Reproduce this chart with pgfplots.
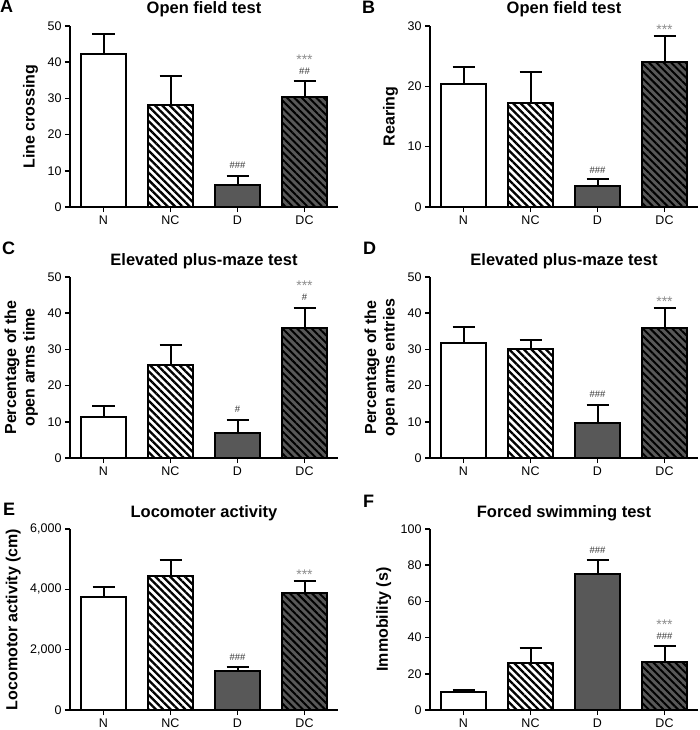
\documentclass[border=0pt]{standalone}
\usepackage{fontspec}
\setmainfont{Liberation Sans}
\usepackage{pgfplots}
\pgfplotsset{compat=1.18}
\usetikzlibrary{patterns.meta}
\definecolor{dgrey}{RGB}{88,88,88}
\definecolor{stargrey}{RGB}{140,140,140}
\definecolor{hashgrey}{RGB}{50,50,50}
\tikzset{
  star/.style={font=\fontsize{14}{14}\selectfont, text=stargrey, inner sep=0pt},
  hash/.style={font=\fontsize{9.5}{10}\selectfont, text=hashgrey, inner sep=0pt},
}
\pgfplotsset{
  panel/.style={
    scale only axis, width=268pt, height=181pt,
    anchor=south west,
    xmin=-0.5, xmax=3.5, ymin=0,
    axis x line*=bottom, axis y line*=left,
    axis line style={line width=2pt, -},
    ybar, bar width=0.66, bar shift=0pt,
    xtick={0,1,2,3}, xticklabels={N,NC,D,DC},
    tick align=outside, major tick length=5pt,
    every tick/.style={black, line width=1.6pt},
    x tick label style={font=\fontsize{12.5}{14}\selectfont},
    y tick label style={font=\fontsize{12.5}{14}\selectfont},
    /pgf/number format/assume math mode=true,
    /pgf/number format/1000 sep={,},
    scaled y ticks=false,
    title style={anchor=base, yshift=6pt, font=\bfseries\fontsize{16.5}{19}\selectfont},
    ylabel style={font=\bfseries\fontsize{16}{18.5}\selectfont, align=center, inner xsep=0pt, inner ysep=6pt},
    clip=false,
  },
  errs/.style={error bars/.cd, y dir=plus, y explicit, error bar style={line width=2pt, black, solid}, error mark options={line width=2pt, mark size=11pt, black, solid, rotate=90}},
  barN/.style={fill=white, draw=black, line width=2pt},
  barNC/.style={fill=white, draw=black, line width=2pt, postaction={pattern={Lines[angle=-45,distance=5.2pt,line width=2.3pt]}, pattern color=black}},
  barD/.style={fill=dgrey, draw=black, line width=2pt},
  barDC/.style={fill=dgrey, draw=black, line width=2pt, postaction={pattern={Lines[angle=-45,distance=5.2pt,line width=2pt]}, pattern color=black}},
}
\begin{document}
\begin{tikzpicture}[x=1pt,y=1pt]
\path[use as bounding box] (0,0) rectangle (700,-730);
% panel letters
\node[anchor=base west, inner sep=0pt, font=\bfseries\fontsize{18}{20}\selectfont] at (0,-13) {A};
\node[anchor=base west, inner sep=0pt, font=\bfseries\fontsize{18}{20}\selectfont] at (362,-14) {B};
\node[anchor=base west, inner sep=0pt, font=\bfseries\fontsize{18}{20}\selectfont] at (2,-254) {C};
\node[anchor=base west, inner sep=0pt, font=\bfseries\fontsize{18}{20}\selectfont] at (363,-254) {D};
\node[anchor=base west, inner sep=0pt, font=\bfseries\fontsize{18}{20}\selectfont] at (3,-515) {E};
\node[anchor=base west, inner sep=0pt, font=\bfseries\fontsize{18}{20}\selectfont] at (363,-507) {F};

% A
\begin{axis}[panel, at={(70pt,-207pt)}, ymax=50, ytick={0,10,20,30,40,50},
  title={Open field test}, ylabel={Line crossing}]
\addplot[barN, errs] coordinates {(0,42.4) +- (0,5.3)};
\addplot[barNC, errs] coordinates {(1,28.1) +- (0,8.0)};
\addplot[barD, errs] coordinates {(2,6.0) +- (0,2.5)};
\addplot[barDC, errs] coordinates {(3,30.4) +- (0,4.5)};
\node[hash] at (axis cs:2,11.6) {\#\#\#};
\node[hash] at (axis cs:3,37.6) {\#\#};
\node[star] at (axis cs:3,40.6) {***};
\end{axis}

% B
\begin{axis}[panel, at={(430pt,-207pt)}, ymax=30, ytick={0,10,20,30},
  title={Open field test}, ylabel={Rearing}]
\addplot[barN, errs] coordinates {(0,20.4) +- (0,2.8)};
\addplot[barNC, errs] coordinates {(1,17.2) +- (0,5.2)};
\addplot[barD, errs] coordinates {(2,3.4) +- (0,1.2)};
\addplot[barDC, errs] coordinates {(3,24.0) +- (0,4.3)};
\node[hash] at (axis cs:2,6.1) {\#\#\#};
\node[star] at (axis cs:3,29.4) {***};
\end{axis}

% C
\begin{axis}[panel, at={(70pt,-458pt)}, ymax=50, ytick={0,10,20,30,40,50},
  title={Elevated plus-maze test}, ylabel={Percentage of the\\open arms time}]
\addplot[barN, errs] coordinates {(0,11.4) +- (0,3.1)};
\addplot[barNC, errs] coordinates {(1,25.7) +- (0,5.4)};
\addplot[barD, errs] coordinates {(2,6.9) +- (0,3.7)};
\addplot[barDC, errs] coordinates {(3,35.9) +- (0,5.6)};
\node[hash] at (axis cs:2,13.4) {\#};
\node[hash] at (axis cs:3,44.5) {\#};
\node[star] at (axis cs:3,47.6) {***};
\end{axis}

% D
\begin{axis}[panel, at={(430pt,-458pt)}, ymax=50, ytick={0,10,20,30,40,50},
  title={Elevated plus-maze test}, ylabel={Percentage of the\\open arms entries}]
\addplot[barN, errs] coordinates {(0,31.8) +- (0,4.4)};
\addplot[barNC, errs] coordinates {(1,30.2) +- (0,2.5)};
\addplot[barD, errs] coordinates {(2,9.8) +- (0,4.9)};
\addplot[barDC, errs] coordinates {(3,36.0) +- (0,5.5)};
\node[hash] at (axis cs:2,17.5) {\#\#\#};
\node[star] at (axis cs:3,43.2) {***};
\end{axis}

% E
\begin{axis}[panel, at={(70pt,-710pt)}, ymax=6000, ytick={0,2000,4000,6000},
  title={Locomoter activity}, ylabel={Locomotor activity (cm)}]
\addplot[barN, errs] coordinates {(0,3742) +- (0,321)};
\addplot[barNC, errs] coordinates {(1,4428) +- (0,542)};
\addplot[barD, errs] coordinates {(2,1284) +- (0,133)};
\addplot[barDC, errs] coordinates {(3,3863) +- (0,410)};
\node[hash] at (axis cs:2,1734) {\#\#\#};
\node[star] at (axis cs:3,4500) {***};
\end{axis}

% F
\begin{axis}[panel, at={(430pt,-710pt)}, ymax=100, ytick={0,20,40,60,80,100},
  title={Forced swimming test}, ylabel={Immobility (s)}]
\addplot[barN, errs] coordinates {(0,10.1) +- (0,1.2)};
\addplot[barNC, errs] coordinates {(1,25.8) +- (0,8.5)};
\addplot[barD, errs] coordinates {(2,75.1) +- (0,7.6)};
\addplot[barDC, errs] coordinates {(3,26.8) +- (0,8.3)};
\node[hash] at (axis cs:2,88.0) {\#\#\#};
\node[hash] at (axis cs:3,41.0) {\#\#\#};
\node[star] at (axis cs:3,47.2) {***};
\end{axis}
\end{tikzpicture}
\end{document}
